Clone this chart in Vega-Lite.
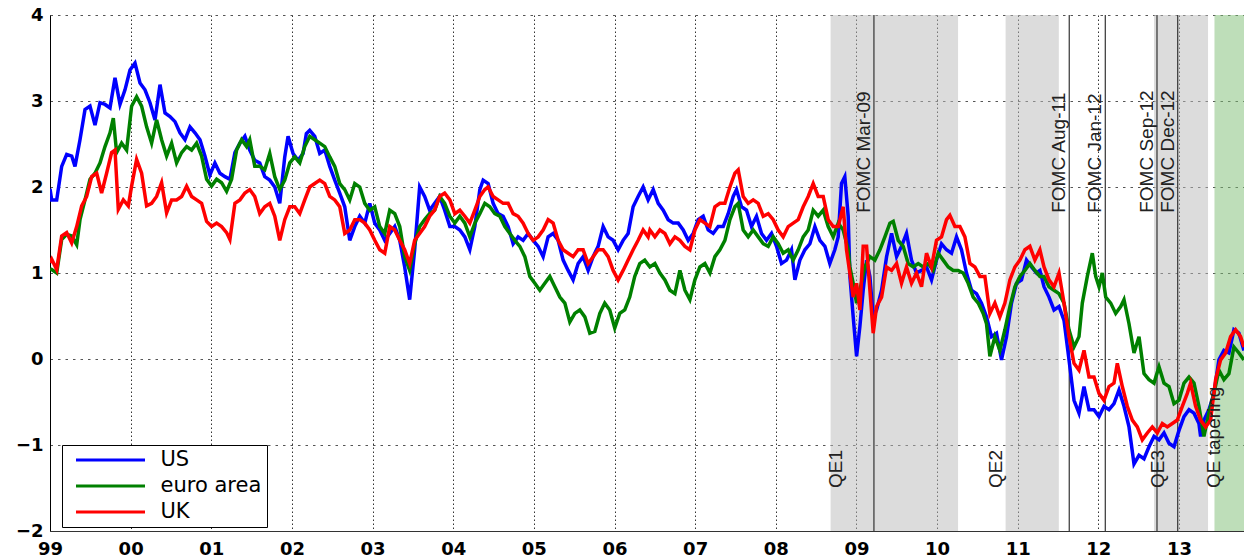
{
"$schema":"https://vega.github.io/schema/vega-lite/v6.json",
"width":1194,"height":516,
"autosize":{"type":"none"},
"padding":{"left":50,"top":15,"right":0,"bottom":28},
"background":"white",
"config":{"view":{"stroke":null},"font":"DejaVu Sans"},
"datasets":{
"shades":[{"start":2008.68,"end":2010.26,"kind":"QE"},{"start":2010.85,"end":2011.51,"kind":"QE"},{"start":2012.69,"end":2013.36,"kind":"QE"},{"start":2013.44,"end":2013.9,"kind":"tapering"}],
"events":[{"event":"FOMC Mar-09","date":2009.217},{"event":"FOMC Aug-11","date":2011.639},{"event":"FOMC Jan-12","date":2012.086},{"event":"FOMC Sep-12","date":2012.727},{"event":"FOMC Dec-12","date":2012.984}],
"qe":[{"label":"QE1","date":2008.82},{"label":"QE2","date":2010.81},{"label":"QE3","date":2012.81},{"label":"QE tapering","date":2013.51}],
"series":[
{"s":"US","t":1999.0,"v":1.98},{"s":"US","t":1999.021,"v":1.85},{"s":"US","t":1999.083,"v":1.85},{"s":"US","t":1999.145,"v":2.24},{"s":"US","t":1999.207,"v":2.38},{"s":"US","t":1999.269,"v":2.36},{"s":"US","t":1999.31,"v":2.24},{"s":"US","t":1999.372,"v":2.55},{"s":"US","t":1999.434,"v":2.9},{"s":"US","t":1999.496,"v":2.94},{"s":"US","t":1999.558,"v":2.72},{"s":"US","t":1999.62,"v":2.98},{"s":"US","t":1999.682,"v":2.96},{"s":"US","t":1999.744,"v":2.92},{"s":"US","t":1999.806,"v":3.27},{"s":"US","t":1999.868,"v":2.96},{"s":"US","t":1999.93,"v":3.13},{"s":"US","t":1999.992,"v":3.36},{"s":"US","t":2000.054,"v":3.44},{"s":"US","t":2000.116,"v":3.21},{"s":"US","t":2000.178,"v":3.13},{"s":"US","t":2000.24,"v":2.98},{"s":"US","t":2000.302,"v":2.78},{"s":"US","t":2000.364,"v":3.19},{"s":"US","t":2000.426,"v":2.86},{"s":"US","t":2000.488,"v":2.82},{"s":"US","t":2000.55,"v":2.76},{"s":"US","t":2000.612,"v":2.63},{"s":"US","t":2000.674,"v":2.55},{"s":"US","t":2000.736,"v":2.7},{"s":"US","t":2000.798,"v":2.63},{"s":"US","t":2000.86,"v":2.55},{"s":"US","t":2000.921,"v":2.36},{"s":"US","t":2000.983,"v":2.14},{"s":"US","t":2001.045,"v":2.28},{"s":"US","t":2001.107,"v":2.16},{"s":"US","t":2001.169,"v":2.12},{"s":"US","t":2001.231,"v":2.09},{"s":"US","t":2001.293,"v":2.4},{"s":"US","t":2001.355,"v":2.51},{"s":"US","t":2001.417,"v":2.59},
{"s":"US","t":2001.477,"v":2.43},{"s":"US","t":2001.539,"v":2.31},{"s":"US","t":2001.601,"v":2.28},{"s":"US","t":2001.663,"v":2.12},{"s":"US","t":2001.725,"v":2.08},{"s":"US","t":2001.787,"v":2.0},{"s":"US","t":2001.849,"v":1.81},{"s":"US","t":2001.911,"v":2.35},{"s":"US","t":2001.952,"v":2.59},{"s":"US","t":2002.014,"v":2.39},{"s":"US","t":2002.076,"v":2.31},{"s":"US","t":2002.138,"v":2.39},{"s":"US","t":2002.179,"v":2.62},{"s":"US","t":2002.221,"v":2.66},{"s":"US","t":2002.283,"v":2.59},{"s":"US","t":2002.345,"v":2.39},{"s":"US","t":2002.407,"v":2.43},{"s":"US","t":2002.469,"v":2.24},{"s":"US","t":2002.531,"v":2.08},{"s":"US","t":2002.593,"v":1.93},{"s":"US","t":2002.655,"v":1.77},{"s":"US","t":2002.717,"v":1.38},{"s":"US","t":2002.779,"v":1.54},{"s":"US","t":2002.841,"v":1.66},{"s":"US","t":2002.903,"v":1.58},{"s":"US","t":2002.965,"v":1.81},{"s":"US","t":2003.027,"v":1.58},{"s":"US","t":2003.089,"v":1.5},{"s":"US","t":2003.151,"v":1.38},{"s":"US","t":2003.213,"v":1.46},{"s":"US","t":2003.275,"v":1.54},{"s":"US","t":2003.337,"v":1.38},{"s":"US","t":2003.398,"v":1.07},{"s":"US","t":2003.46,"v":0.69},{"s":"US","t":2003.522,"v":1.27},{"s":"US","t":2003.584,"v":2.0},{"s":"US","t":2003.646,"v":1.89},{"s":"US","t":2003.708,"v":1.73},{"s":"US","t":2003.77,"v":1.81},{"s":"US","t":2003.832,"v":1.89},{"s":"US","t":2003.894,"v":1.73},
{"s":"US","t":2003.958,"v":1.54},{"s":"US","t":2004.02,"v":1.54},{"s":"US","t":2004.082,"v":1.5},{"s":"US","t":2004.144,"v":1.42},{"s":"US","t":2004.206,"v":1.27},{"s":"US","t":2004.268,"v":1.54},{"s":"US","t":2004.33,"v":1.97},{"s":"US","t":2004.371,"v":2.08},{"s":"US","t":2004.433,"v":2.04},{"s":"US","t":2004.495,"v":1.81},{"s":"US","t":2004.557,"v":1.69},{"s":"US","t":2004.619,"v":1.66},{"s":"US","t":2004.681,"v":1.54},{"s":"US","t":2004.743,"v":1.34},{"s":"US","t":2004.805,"v":1.42},{"s":"US","t":2004.867,"v":1.38},{"s":"US","t":2004.929,"v":1.46},{"s":"US","t":2004.991,"v":1.38},{"s":"US","t":2005.053,"v":1.31},{"s":"US","t":2005.115,"v":1.19},{"s":"US","t":2005.177,"v":1.42},{"s":"US","t":2005.239,"v":1.46},{"s":"US","t":2005.301,"v":1.38},{"s":"US","t":2005.363,"v":1.15},{"s":"US","t":2005.425,"v":1.03},{"s":"US","t":2005.487,"v":0.92},{"s":"US","t":2005.549,"v":1.11},{"s":"US","t":2005.611,"v":1.19},{"s":"US","t":2005.673,"v":1.03},{"s":"US","t":2005.735,"v":1.19},{"s":"US","t":2005.797,"v":1.31},{"s":"US","t":2005.859,"v":1.54},{"s":"US","t":2005.921,"v":1.42},{"s":"US","t":2005.983,"v":1.38},{"s":"US","t":2006.045,"v":1.27},{"s":"US","t":2006.107,"v":1.38},{"s":"US","t":2006.169,"v":1.46},{"s":"US","t":2006.231,"v":1.77},{"s":"US","t":2006.293,"v":1.89},{"s":"US","t":2006.355,"v":2.0},{"s":"US","t":2006.417,"v":1.85},
{"s":"US","t":2006.48,"v":1.97},{"s":"US","t":2006.542,"v":1.81},{"s":"US","t":2006.604,"v":1.73},{"s":"US","t":2006.666,"v":1.62},{"s":"US","t":2006.728,"v":1.58},{"s":"US","t":2006.79,"v":1.58},{"s":"US","t":2006.852,"v":1.5},{"s":"US","t":2006.914,"v":1.38},{"s":"US","t":2006.976,"v":1.46},{"s":"US","t":2007.038,"v":1.62},{"s":"US","t":2007.1,"v":1.66},{"s":"US","t":2007.162,"v":1.5},{"s":"US","t":2007.224,"v":1.46},{"s":"US","t":2007.286,"v":1.54},{"s":"US","t":2007.348,"v":1.54},{"s":"US","t":2007.41,"v":1.69},{"s":"US","t":2007.472,"v":1.89},{"s":"US","t":2007.513,"v":1.97},{"s":"US","t":2007.575,"v":1.77},{"s":"US","t":2007.637,"v":1.73},{"s":"US","t":2007.699,"v":1.54},{"s":"US","t":2007.761,"v":1.66},{"s":"US","t":2007.823,"v":1.46},{"s":"US","t":2007.885,"v":1.38},{"s":"US","t":2007.947,"v":1.46},{"s":"US","t":2008.009,"v":1.31},{"s":"US","t":2008.071,"v":1.11},{"s":"US","t":2008.133,"v":1.15},{"s":"US","t":2008.195,"v":1.27},{"s":"US","t":2008.237,"v":0.92},{"s":"US","t":2008.299,"v":1.15},{"s":"US","t":2008.361,"v":1.27},{"s":"US","t":2008.423,"v":1.34},{"s":"US","t":2008.485,"v":1.54},{"s":"US","t":2008.547,"v":1.38},{"s":"US","t":2008.609,"v":1.31},{"s":"US","t":2008.67,"v":1.11},{"s":"US","t":2008.732,"v":1.27},{"s":"US","t":2008.774,"v":1.42},{"s":"US","t":2008.815,"v":2.04},{"s":"US","t":2008.856,"v":2.12},{"s":"US","t":2008.898,"v":1.66},
{"s":"US","t":2008.919,"v":0.96},{"s":"US","t":2008.96,"v":0.49},{"s":"US","t":2009.002,"v":0.03},{"s":"US","t":2009.043,"v":0.38},{"s":"US","t":2009.084,"v":0.8},{"s":"US","t":2009.126,"v":1.15},{"s":"US","t":2009.167,"v":0.96},{"s":"US","t":2009.208,"v":0.49},{"s":"US","t":2009.25,"v":0.57},{"s":"US","t":2009.312,"v":0.8},{"s":"US","t":2009.374,"v":1.19},{"s":"US","t":2009.436,"v":1.46},{"s":"US","t":2009.498,"v":1.19},{"s":"US","t":2009.559,"v":1.31},{"s":"US","t":2009.621,"v":1.46},{"s":"US","t":2009.683,"v":1.15},{"s":"US","t":2009.745,"v":1.0},{"s":"US","t":2009.807,"v":1.03},{"s":"US","t":2009.869,"v":1.07},{"s":"US","t":2009.931,"v":0.92},{"s":"US","t":2009.993,"v":1.15},{"s":"US","t":2010.055,"v":1.34},{"s":"US","t":2010.117,"v":1.27},{"s":"US","t":2010.179,"v":1.23},{"s":"US","t":2010.241,"v":1.42},{"s":"US","t":2010.303,"v":1.27},{"s":"US","t":2010.365,"v":1.0},{"s":"US","t":2010.427,"v":0.8},{"s":"US","t":2010.489,"v":0.76},{"s":"US","t":2010.551,"v":0.65},{"s":"US","t":2010.613,"v":0.49},{"s":"US","t":2010.675,"v":0.26},{"s":"US","t":2010.737,"v":0.3},{"s":"US","t":2010.799,"v":-0.01},{"s":"US","t":2010.861,"v":0.26},{"s":"US","t":2010.923,"v":0.65},{"s":"US","t":2010.985,"v":0.88},{"s":"US","t":2011.047,"v":0.92},{"s":"US","t":2011.109,"v":1.15},{"s":"US","t":2011.171,"v":1.07},{"s":"US","t":2011.234,"v":1.0},{"s":"US","t":2011.275,"v":1.03},
{"s":"US","t":2011.326,"v":0.84},{"s":"US","t":2011.388,"v":0.72},{"s":"US","t":2011.45,"v":0.57},{"s":"US","t":2011.512,"v":0.61},{"s":"US","t":2011.574,"v":0.45},{"s":"US","t":2011.636,"v":-0.01},{"s":"US","t":2011.698,"v":-0.48},{"s":"US","t":2011.76,"v":-0.63},{"s":"US","t":2011.822,"v":-0.32},{"s":"US","t":2011.884,"v":-0.59},{"s":"US","t":2011.946,"v":-0.59},{"s":"US","t":2012.008,"v":-0.67},{"s":"US","t":2012.07,"v":-0.55},{"s":"US","t":2012.132,"v":-0.59},{"s":"US","t":2012.194,"v":-0.52},{"s":"US","t":2012.256,"v":-0.36},{"s":"US","t":2012.318,"v":-0.55},{"s":"US","t":2012.38,"v":-0.79},{"s":"US","t":2012.442,"v":-1.22},{"s":"US","t":2012.504,"v":-1.12},{"s":"US","t":2012.566,"v":-1.16},{"s":"US","t":2012.628,"v":-1.02},{"s":"US","t":2012.69,"v":-0.9},{"s":"US","t":2012.752,"v":-0.94},{"s":"US","t":2012.814,"v":-0.86},{"s":"US","t":2012.876,"v":-0.98},{"s":"US","t":2012.938,"v":-1.02},{"s":"US","t":2013.0,"v":-0.83},{"s":"US","t":2013.062,"v":-0.67},{"s":"US","t":2013.124,"v":-0.59},{"s":"US","t":2013.186,"v":-0.63},{"s":"US","t":2013.247,"v":-0.75},{"s":"US","t":2013.268,"v":-0.9},{"s":"US","t":2013.309,"v":-0.71},{"s":"US","t":2013.371,"v":-0.59},{"s":"US","t":2013.433,"v":-0.4},{"s":"US","t":2013.495,"v":-0.01},{"s":"US","t":2013.557,"v":0.1},{"s":"US","t":2013.619,"v":0.07},{"s":"US","t":2013.681,"v":0.34},{"s":"US","t":2013.743,"v":0.3},{"s":"US","t":2013.805,"v":0.1},

{"s":"euro area","t":1999.0,"v":1.05},{"s":"euro area","t":1999.021,"v":1.04},{"s":"euro area","t":1999.083,"v":1.0},{"s":"euro area","t":1999.145,"v":1.39},{"s":"euro area","t":1999.207,"v":1.45},{"s":"euro area","t":1999.269,"v":1.43},{"s":"euro area","t":1999.331,"v":1.33},{"s":"euro area","t":1999.372,"v":1.62},{"s":"euro area","t":1999.434,"v":1.85},{"s":"euro area","t":1999.496,"v":2.09},{"s":"euro area","t":1999.558,"v":2.16},{"s":"euro area","t":1999.62,"v":2.28},{"s":"euro area","t":1999.682,"v":2.47},{"s":"euro area","t":1999.744,"v":2.63},{"s":"euro area","t":1999.785,"v":2.8},{"s":"euro area","t":1999.826,"v":2.4},{"s":"euro area","t":1999.888,"v":2.51},{"s":"euro area","t":1999.95,"v":2.43},{"s":"euro area","t":2000.012,"v":2.94},{"s":"euro area","t":2000.074,"v":3.05},{"s":"euro area","t":2000.136,"v":2.94},{"s":"euro area","t":2000.198,"v":2.7},{"s":"euro area","t":2000.26,"v":2.51},{"s":"euro area","t":2000.322,"v":2.78},{"s":"euro area","t":2000.384,"v":2.55},{"s":"euro area","t":2000.446,"v":2.36},{"s":"euro area","t":2000.508,"v":2.51},{"s":"euro area","t":2000.57,"v":2.28},{"s":"euro area","t":2000.632,"v":2.4},{"s":"euro area","t":2000.694,"v":2.47},{"s":"euro area","t":2000.756,"v":2.43},{"s":"euro area","t":2000.818,"v":2.51},{"s":"euro area","t":2000.88,"v":2.36},{"s":"euro area","t":2000.942,"v":2.09},{"s":"euro area","t":2001.004,"v":2.01},{"s":"euro area","t":2001.066,"v":2.09},{"s":"euro area","t":2001.128,"v":2.05},{"s":"euro area","t":2001.19,"v":1.95},{"s":"euro area","t":2001.252,"v":2.09},{"s":"euro area","t":2001.314,"v":2.43},{"s":"euro area","t":2001.376,"v":2.55},{"s":"euro area","t":2001.438,"v":2.47},
{"s":"euro area","t":2001.477,"v":2.55},{"s":"euro area","t":2001.539,"v":2.24},{"s":"euro area","t":2001.601,"v":2.24},{"s":"euro area","t":2001.663,"v":2.2},{"s":"euro area","t":2001.725,"v":2.39},{"s":"euro area","t":2001.787,"v":2.12},{"s":"euro area","t":2001.849,"v":1.97},{"s":"euro area","t":2001.911,"v":2.08},{"s":"euro area","t":2001.973,"v":2.28},{"s":"euro area","t":2002.035,"v":2.35},{"s":"euro area","t":2002.097,"v":2.28},{"s":"euro area","t":2002.159,"v":2.47},{"s":"euro area","t":2002.221,"v":2.59},{"s":"euro area","t":2002.283,"v":2.55},{"s":"euro area","t":2002.345,"v":2.51},{"s":"euro area","t":2002.407,"v":2.47},{"s":"euro area","t":2002.469,"v":2.35},{"s":"euro area","t":2002.531,"v":2.24},{"s":"euro area","t":2002.593,"v":2.04},{"s":"euro area","t":2002.655,"v":1.97},{"s":"euro area","t":2002.717,"v":1.85},{"s":"euro area","t":2002.779,"v":2.04},{"s":"euro area","t":2002.841,"v":2.0},{"s":"euro area","t":2002.903,"v":1.81},{"s":"euro area","t":2002.965,"v":1.73},{"s":"euro area","t":2003.027,"v":1.77},{"s":"euro area","t":2003.089,"v":1.54},{"s":"euro area","t":2003.151,"v":1.46},{"s":"euro area","t":2003.213,"v":1.73},{"s":"euro area","t":2003.275,"v":1.69},{"s":"euro area","t":2003.337,"v":1.54},{"s":"euro area","t":2003.398,"v":1.19},{"s":"euro area","t":2003.46,"v":1.03},{"s":"euro area","t":2003.522,"v":1.34},{"s":"euro area","t":2003.584,"v":1.54},{"s":"euro area","t":2003.646,"v":1.62},{"s":"euro area","t":2003.708,"v":1.69},{"s":"euro area","t":2003.77,"v":1.73},{"s":"euro area","t":2003.832,"v":1.89},{"s":"euro area","t":2003.894,"v":1.81},
{"s":"euro area","t":2003.958,"v":1.66},{"s":"euro area","t":2004.02,"v":1.58},{"s":"euro area","t":2004.082,"v":1.66},{"s":"euro area","t":2004.144,"v":1.58},{"s":"euro area","t":2004.206,"v":1.42},{"s":"euro area","t":2004.268,"v":1.58},{"s":"euro area","t":2004.33,"v":1.69},{"s":"euro area","t":2004.392,"v":1.81},{"s":"euro area","t":2004.454,"v":1.77},{"s":"euro area","t":2004.516,"v":1.69},{"s":"euro area","t":2004.578,"v":1.66},{"s":"euro area","t":2004.64,"v":1.54},{"s":"euro area","t":2004.702,"v":1.46},{"s":"euro area","t":2004.764,"v":1.38},{"s":"euro area","t":2004.826,"v":1.31},{"s":"euro area","t":2004.888,"v":1.19},{"s":"euro area","t":2004.95,"v":0.96},{"s":"euro area","t":2005.012,"v":0.88},{"s":"euro area","t":2005.074,"v":0.8},{"s":"euro area","t":2005.136,"v":0.88},{"s":"euro area","t":2005.198,"v":0.96},{"s":"euro area","t":2005.26,"v":0.84},{"s":"euro area","t":2005.322,"v":0.72},{"s":"euro area","t":2005.384,"v":0.65},{"s":"euro area","t":2005.446,"v":0.43},{"s":"euro area","t":2005.508,"v":0.53},{"s":"euro area","t":2005.57,"v":0.57},{"s":"euro area","t":2005.632,"v":0.49},{"s":"euro area","t":2005.694,"v":0.3},{"s":"euro area","t":2005.756,"v":0.32},{"s":"euro area","t":2005.818,"v":0.53},{"s":"euro area","t":2005.879,"v":0.65},{"s":"euro area","t":2005.941,"v":0.57},{"s":"euro area","t":2006.003,"v":0.36},{"s":"euro area","t":2006.065,"v":0.53},{"s":"euro area","t":2006.127,"v":0.57},{"s":"euro area","t":2006.189,"v":0.72},{"s":"euro area","t":2006.251,"v":0.96},{"s":"euro area","t":2006.313,"v":1.11},{"s":"euro area","t":2006.375,"v":1.15},
{"s":"euro area","t":2006.439,"v":1.07},{"s":"euro area","t":2006.501,"v":1.11},{"s":"euro area","t":2006.563,"v":1.0},{"s":"euro area","t":2006.625,"v":0.92},{"s":"euro area","t":2006.687,"v":0.8},{"s":"euro area","t":2006.749,"v":0.76},{"s":"euro area","t":2006.811,"v":1.03},{"s":"euro area","t":2006.873,"v":0.8},{"s":"euro area","t":2006.935,"v":0.69},{"s":"euro area","t":2006.997,"v":0.92},{"s":"euro area","t":2007.059,"v":1.07},{"s":"euro area","t":2007.121,"v":1.11},{"s":"euro area","t":2007.183,"v":1.0},{"s":"euro area","t":2007.245,"v":1.19},{"s":"euro area","t":2007.307,"v":1.27},{"s":"euro area","t":2007.369,"v":1.38},{"s":"euro area","t":2007.431,"v":1.62},{"s":"euro area","t":2007.493,"v":1.77},{"s":"euro area","t":2007.534,"v":1.81},{"s":"euro area","t":2007.596,"v":1.5},{"s":"euro area","t":2007.658,"v":1.42},{"s":"euro area","t":2007.72,"v":1.5},{"s":"euro area","t":2007.782,"v":1.42},{"s":"euro area","t":2007.844,"v":1.34},{"s":"euro area","t":2007.906,"v":1.31},{"s":"euro area","t":2007.968,"v":1.42},{"s":"euro area","t":2008.03,"v":1.34},{"s":"euro area","t":2008.092,"v":1.23},{"s":"euro area","t":2008.154,"v":1.27},{"s":"euro area","t":2008.216,"v":1.15},{"s":"euro area","t":2008.278,"v":1.27},{"s":"euro area","t":2008.34,"v":1.42},{"s":"euro area","t":2008.402,"v":1.5},{"s":"euro area","t":2008.464,"v":1.73},{"s":"euro area","t":2008.526,"v":1.66},{"s":"euro area","t":2008.588,"v":1.73},{"s":"euro area","t":2008.65,"v":1.54},{"s":"euro area","t":2008.712,"v":1.42},{"s":"euro area","t":2008.774,"v":1.58},{"s":"euro area","t":2008.836,"v":1.5},{"s":"euro area","t":2008.898,"v":1.27},
{"s":"euro area","t":2008.919,"v":1.07},{"s":"euro area","t":2008.96,"v":0.88},{"s":"euro area","t":2009.002,"v":0.65},{"s":"euro area","t":2009.043,"v":0.8},{"s":"euro area","t":2009.105,"v":1.07},{"s":"euro area","t":2009.167,"v":1.19},{"s":"euro area","t":2009.229,"v":1.15},{"s":"euro area","t":2009.291,"v":1.27},{"s":"euro area","t":2009.353,"v":1.42},{"s":"euro area","t":2009.415,"v":1.58},{"s":"euro area","t":2009.456,"v":1.6},{"s":"euro area","t":2009.518,"v":1.38},{"s":"euro area","t":2009.58,"v":1.31},{"s":"euro area","t":2009.642,"v":1.11},{"s":"euro area","t":2009.704,"v":1.07},{"s":"euro area","t":2009.766,"v":1.11},{"s":"euro area","t":2009.828,"v":1.07},{"s":"euro area","t":2009.89,"v":1.11},{"s":"euro area","t":2009.952,"v":1.03},{"s":"euro area","t":2010.014,"v":1.23},{"s":"euro area","t":2010.076,"v":1.15},{"s":"euro area","t":2010.138,"v":1.07},{"s":"euro area","t":2010.2,"v":1.03},{"s":"euro area","t":2010.262,"v":1.03},{"s":"euro area","t":2010.324,"v":1.0},{"s":"euro area","t":2010.386,"v":0.88},{"s":"euro area","t":2010.448,"v":0.72},{"s":"euro area","t":2010.51,"v":0.65},{"s":"euro area","t":2010.572,"v":0.53},{"s":"euro area","t":2010.613,"v":0.41},{"s":"euro area","t":2010.655,"v":0.03},{"s":"euro area","t":2010.717,"v":0.26},{"s":"euro area","t":2010.779,"v":0.1},{"s":"euro area","t":2010.841,"v":0.34},{"s":"euro area","t":2010.903,"v":0.61},{"s":"euro area","t":2010.965,"v":0.84},{"s":"euro area","t":2011.027,"v":0.96},{"s":"euro area","t":2011.089,"v":1.03},{"s":"euro area","t":2011.151,"v":1.11},{"s":"euro area","t":2011.213,"v":1.03},{"s":"euro area","t":2011.275,"v":0.96},
{"s":"euro area","t":2011.326,"v":0.96},{"s":"euro area","t":2011.388,"v":0.84},{"s":"euro area","t":2011.45,"v":0.8},{"s":"euro area","t":2011.512,"v":0.76},{"s":"euro area","t":2011.574,"v":0.65},{"s":"euro area","t":2011.636,"v":0.34},{"s":"euro area","t":2011.698,"v":0.14},{"s":"euro area","t":2011.76,"v":0.26},{"s":"euro area","t":2011.801,"v":0.65},{"s":"euro area","t":2011.863,"v":0.96},{"s":"euro area","t":2011.925,"v":1.23},{"s":"euro area","t":2011.967,"v":0.96},{"s":"euro area","t":2012.008,"v":0.84},{"s":"euro area","t":2012.049,"v":1.0},{"s":"euro area","t":2012.091,"v":0.72},{"s":"euro area","t":2012.153,"v":0.65},{"s":"euro area","t":2012.215,"v":0.53},{"s":"euro area","t":2012.277,"v":0.61},{"s":"euro area","t":2012.318,"v":0.69},{"s":"euro area","t":2012.38,"v":0.41},{"s":"euro area","t":2012.442,"v":0.07},{"s":"euro area","t":2012.504,"v":0.26},{"s":"euro area","t":2012.566,"v":-0.17},{"s":"euro area","t":2012.628,"v":-0.24},{"s":"euro area","t":2012.69,"v":-0.28},{"s":"euro area","t":2012.752,"v":-0.09},{"s":"euro area","t":2012.814,"v":-0.28},{"s":"euro area","t":2012.876,"v":-0.32},{"s":"euro area","t":2012.938,"v":-0.52},{"s":"euro area","t":2013.0,"v":-0.48},{"s":"euro area","t":2013.062,"v":-0.28},{"s":"euro area","t":2013.124,"v":-0.21},{"s":"euro area","t":2013.186,"v":-0.28},{"s":"euro area","t":2013.247,"v":-0.55},{"s":"euro area","t":2013.309,"v":-0.9},{"s":"euro area","t":2013.371,"v":-0.63},{"s":"euro area","t":2013.433,"v":-0.4},{"s":"euro area","t":2013.495,"v":-0.13},{"s":"euro area","t":2013.557,"v":-0.24},{"s":"euro area","t":2013.619,"v":-0.17},{"s":"euro area","t":2013.681,"v":0.14},{"s":"euro area","t":2013.743,"v":0.07},{"s":"euro area","t":2013.805,"v":-0.01},

{"s":"UK","t":1999.0,"v":1.12},{"s":"UK","t":1999.021,"v":1.16},{"s":"UK","t":1999.083,"v":1.04},{"s":"UK","t":1999.145,"v":1.43},{"s":"UK","t":1999.207,"v":1.47},{"s":"UK","t":1999.269,"v":1.35},{"s":"UK","t":1999.331,"v":1.54},{"s":"UK","t":1999.393,"v":1.78},{"s":"UK","t":1999.455,"v":1.89},{"s":"UK","t":1999.517,"v":2.12},{"s":"UK","t":1999.579,"v":2.16},{"s":"UK","t":1999.64,"v":1.93},{"s":"UK","t":1999.702,"v":2.16},{"s":"UK","t":1999.764,"v":2.4},{"s":"UK","t":1999.806,"v":2.43},{"s":"UK","t":1999.847,"v":1.74},{"s":"UK","t":1999.909,"v":1.85},{"s":"UK","t":1999.971,"v":1.78},{"s":"UK","t":2000.012,"v":2.01},{"s":"UK","t":2000.074,"v":2.32},{"s":"UK","t":2000.136,"v":2.16},{"s":"UK","t":2000.198,"v":1.78},{"s":"UK","t":2000.26,"v":1.81},{"s":"UK","t":2000.322,"v":1.89},{"s":"UK","t":2000.384,"v":2.05},{"s":"UK","t":2000.446,"v":1.7},{"s":"UK","t":2000.508,"v":1.85},{"s":"UK","t":2000.57,"v":1.85},{"s":"UK","t":2000.632,"v":1.89},{"s":"UK","t":2000.694,"v":2.01},{"s":"UK","t":2000.756,"v":1.89},{"s":"UK","t":2000.818,"v":1.85},{"s":"UK","t":2000.88,"v":1.81},{"s":"UK","t":2000.942,"v":1.6},{"s":"UK","t":2001.004,"v":1.54},{"s":"UK","t":2001.066,"v":1.58},{"s":"UK","t":2001.128,"v":1.54},{"s":"UK","t":2001.19,"v":1.47},{"s":"UK","t":2001.231,"v":1.39},{"s":"UK","t":2001.293,"v":1.81},{"s":"UK","t":2001.355,"v":1.85},{"s":"UK","t":2001.417,"v":1.93},
{"s":"UK","t":2001.477,"v":1.97},{"s":"UK","t":2001.539,"v":1.89},{"s":"UK","t":2001.601,"v":1.69},{"s":"UK","t":2001.663,"v":1.77},{"s":"UK","t":2001.725,"v":1.81},{"s":"UK","t":2001.787,"v":1.66},{"s":"UK","t":2001.849,"v":1.38},{"s":"UK","t":2001.911,"v":1.62},{"s":"UK","t":2001.973,"v":1.77},{"s":"UK","t":2002.035,"v":1.77},{"s":"UK","t":2002.097,"v":1.69},{"s":"UK","t":2002.159,"v":1.85},{"s":"UK","t":2002.221,"v":2.0},{"s":"UK","t":2002.283,"v":2.04},{"s":"UK","t":2002.345,"v":2.08},{"s":"UK","t":2002.407,"v":2.04},{"s":"UK","t":2002.469,"v":1.89},{"s":"UK","t":2002.531,"v":1.85},{"s":"UK","t":2002.593,"v":1.77},{"s":"UK","t":2002.655,"v":1.46},{"s":"UK","t":2002.717,"v":1.5},{"s":"UK","t":2002.779,"v":1.62},{"s":"UK","t":2002.841,"v":1.62},{"s":"UK","t":2002.903,"v":1.58},{"s":"UK","t":2002.965,"v":1.5},{"s":"UK","t":2003.027,"v":1.38},{"s":"UK","t":2003.089,"v":1.27},{"s":"UK","t":2003.151,"v":1.23},{"s":"UK","t":2003.213,"v":1.54},{"s":"UK","t":2003.275,"v":1.5},{"s":"UK","t":2003.337,"v":1.38},{"s":"UK","t":2003.398,"v":1.27},{"s":"UK","t":2003.46,"v":1.11},{"s":"UK","t":2003.522,"v":1.38},{"s":"UK","t":2003.584,"v":1.46},{"s":"UK","t":2003.646,"v":1.54},{"s":"UK","t":2003.708,"v":1.66},{"s":"UK","t":2003.77,"v":1.73},{"s":"UK","t":2003.832,"v":1.89},{"s":"UK","t":2003.894,"v":1.93},
{"s":"UK","t":2003.958,"v":1.85},{"s":"UK","t":2004.02,"v":1.69},{"s":"UK","t":2004.082,"v":1.73},{"s":"UK","t":2004.144,"v":1.66},{"s":"UK","t":2004.206,"v":1.58},{"s":"UK","t":2004.268,"v":1.73},{"s":"UK","t":2004.33,"v":1.89},{"s":"UK","t":2004.392,"v":1.97},{"s":"UK","t":2004.433,"v":2.0},{"s":"UK","t":2004.495,"v":1.89},{"s":"UK","t":2004.557,"v":1.85},{"s":"UK","t":2004.619,"v":1.81},{"s":"UK","t":2004.681,"v":1.81},{"s":"UK","t":2004.743,"v":1.69},{"s":"UK","t":2004.805,"v":1.66},{"s":"UK","t":2004.867,"v":1.58},{"s":"UK","t":2004.929,"v":1.46},{"s":"UK","t":2004.991,"v":1.38},{"s":"UK","t":2005.053,"v":1.42},{"s":"UK","t":2005.115,"v":1.5},{"s":"UK","t":2005.177,"v":1.62},{"s":"UK","t":2005.239,"v":1.58},{"s":"UK","t":2005.301,"v":1.38},{"s":"UK","t":2005.363,"v":1.27},{"s":"UK","t":2005.425,"v":1.23},{"s":"UK","t":2005.487,"v":1.19},{"s":"UK","t":2005.549,"v":1.27},{"s":"UK","t":2005.611,"v":1.27},{"s":"UK","t":2005.673,"v":1.11},{"s":"UK","t":2005.735,"v":1.19},{"s":"UK","t":2005.797,"v":1.27},{"s":"UK","t":2005.859,"v":1.27},{"s":"UK","t":2005.921,"v":1.19},{"s":"UK","t":2005.983,"v":1.03},{"s":"UK","t":2006.045,"v":0.92},{"s":"UK","t":2006.107,"v":1.03},{"s":"UK","t":2006.169,"v":1.15},{"s":"UK","t":2006.231,"v":1.27},{"s":"UK","t":2006.293,"v":1.38},{"s":"UK","t":2006.355,"v":1.5},{"s":"UK","t":2006.417,"v":1.42},
{"s":"UK","t":2006.439,"v":1.5},{"s":"UK","t":2006.501,"v":1.42},{"s":"UK","t":2006.563,"v":1.5},{"s":"UK","t":2006.625,"v":1.46},{"s":"UK","t":2006.687,"v":1.34},{"s":"UK","t":2006.749,"v":1.42},{"s":"UK","t":2006.811,"v":1.38},{"s":"UK","t":2006.873,"v":1.31},{"s":"UK","t":2006.935,"v":1.27},{"s":"UK","t":2006.997,"v":1.5},{"s":"UK","t":2007.059,"v":1.62},{"s":"UK","t":2007.121,"v":1.58},{"s":"UK","t":2007.183,"v":1.54},{"s":"UK","t":2007.245,"v":1.77},{"s":"UK","t":2007.307,"v":1.81},{"s":"UK","t":2007.369,"v":1.81},{"s":"UK","t":2007.431,"v":2.0},{"s":"UK","t":2007.493,"v":2.16},{"s":"UK","t":2007.534,"v":2.2},{"s":"UK","t":2007.596,"v":1.89},{"s":"UK","t":2007.658,"v":1.81},{"s":"UK","t":2007.72,"v":1.85},{"s":"UK","t":2007.782,"v":1.81},{"s":"UK","t":2007.844,"v":1.66},{"s":"UK","t":2007.906,"v":1.69},{"s":"UK","t":2007.968,"v":1.62},{"s":"UK","t":2008.03,"v":1.5},{"s":"UK","t":2008.092,"v":1.42},{"s":"UK","t":2008.154,"v":1.54},{"s":"UK","t":2008.216,"v":1.58},{"s":"UK","t":2008.278,"v":1.62},{"s":"UK","t":2008.34,"v":1.77},{"s":"UK","t":2008.402,"v":1.89},{"s":"UK","t":2008.464,"v":2.04},{"s":"UK","t":2008.526,"v":1.89},{"s":"UK","t":2008.588,"v":1.89},{"s":"UK","t":2008.65,"v":1.62},{"s":"UK","t":2008.712,"v":1.54},{"s":"UK","t":2008.774,"v":1.54},{"s":"UK","t":2008.836,"v":1.77},{"s":"UK","t":2008.877,"v":1.27},{"s":"UK","t":2008.918,"v":1.0},
{"s":"UK","t":2008.96,"v":0.72},{"s":"UK","t":2009.002,"v":0.88},{"s":"UK","t":2009.043,"v":0.57},{"s":"UK","t":2009.084,"v":1.31},{"s":"UK","t":2009.126,"v":1.31},{"s":"UK","t":2009.167,"v":0.8},{"s":"UK","t":2009.208,"v":0.3},{"s":"UK","t":2009.25,"v":0.61},{"s":"UK","t":2009.312,"v":0.72},{"s":"UK","t":2009.374,"v":1.07},{"s":"UK","t":2009.436,"v":1.03},{"s":"UK","t":2009.498,"v":1.11},{"s":"UK","t":2009.559,"v":0.88},{"s":"UK","t":2009.621,"v":1.07},{"s":"UK","t":2009.683,"v":0.88},{"s":"UK","t":2009.745,"v":1.0},{"s":"UK","t":2009.807,"v":0.84},{"s":"UK","t":2009.869,"v":1.23},{"s":"UK","t":2009.931,"v":1.07},{"s":"UK","t":2009.993,"v":1.38},{"s":"UK","t":2010.055,"v":1.42},{"s":"UK","t":2010.117,"v":1.62},{"s":"UK","t":2010.159,"v":1.67},{"s":"UK","t":2010.221,"v":1.54},{"s":"UK","t":2010.283,"v":1.54},{"s":"UK","t":2010.345,"v":1.42},{"s":"UK","t":2010.407,"v":1.11},{"s":"UK","t":2010.469,"v":1.07},{"s":"UK","t":2010.531,"v":0.96},{"s":"UK","t":2010.593,"v":0.96},{"s":"UK","t":2010.655,"v":0.53},{"s":"UK","t":2010.717,"v":0.65},{"s":"UK","t":2010.779,"v":0.49},{"s":"UK","t":2010.841,"v":0.65},{"s":"UK","t":2010.903,"v":0.92},{"s":"UK","t":2010.965,"v":1.07},{"s":"UK","t":2011.027,"v":1.15},{"s":"UK","t":2011.089,"v":1.27},{"s":"UK","t":2011.151,"v":1.31},{"s":"UK","t":2011.213,"v":1.15},{"s":"UK","t":2011.275,"v":1.27},
{"s":"UK","t":2011.326,"v":1.07},{"s":"UK","t":2011.388,"v":0.92},{"s":"UK","t":2011.45,"v":0.84},{"s":"UK","t":2011.512,"v":1.0},{"s":"UK","t":2011.574,"v":0.65},{"s":"UK","t":2011.636,"v":0.26},{"s":"UK","t":2011.698,"v":-0.05},{"s":"UK","t":2011.76,"v":-0.13},{"s":"UK","t":2011.822,"v":0.1},{"s":"UK","t":2011.884,"v":-0.21},{"s":"UK","t":2011.946,"v":-0.21},{"s":"UK","t":2012.008,"v":-0.4},{"s":"UK","t":2012.07,"v":-0.48},{"s":"UK","t":2012.132,"v":-0.32},{"s":"UK","t":2012.194,"v":-0.28},{"s":"UK","t":2012.235,"v":-0.05},{"s":"UK","t":2012.297,"v":-0.32},{"s":"UK","t":2012.359,"v":-0.55},{"s":"UK","t":2012.421,"v":-0.71},{"s":"UK","t":2012.483,"v":-0.79},{"s":"UK","t":2012.545,"v":-0.94},{"s":"UK","t":2012.607,"v":-0.86},{"s":"UK","t":2012.669,"v":-0.79},{"s":"UK","t":2012.731,"v":-0.86},{"s":"UK","t":2012.793,"v":-0.75},{"s":"UK","t":2012.855,"v":-0.79},{"s":"UK","t":2012.917,"v":-0.75},{"s":"UK","t":2012.979,"v":-0.71},{"s":"UK","t":2013.041,"v":-0.55},{"s":"UK","t":2013.103,"v":-0.4},{"s":"UK","t":2013.144,"v":-0.28},{"s":"UK","t":2013.206,"v":-0.55},{"s":"UK","t":2013.268,"v":-0.71},{"s":"UK","t":2013.33,"v":-0.79},{"s":"UK","t":2013.392,"v":-0.71},{"s":"UK","t":2013.454,"v":-0.24},{"s":"UK","t":2013.516,"v":-0.01},{"s":"UK","t":2013.578,"v":0.07},{"s":"UK","t":2013.64,"v":0.26},{"s":"UK","t":2013.702,"v":0.34},{"s":"UK","t":2013.764,"v":0.26},{"s":"UK","t":2013.805,"v":0.14}
]},
"layer":[
{"data":{"name":"shades"},"mark":{"type":"rect","opacity":0.5,"clip":true},
 "encoding":{"x":{"field":"start","type":"quantitative","title":null},"x2":{"field":"end"},
  "fill":{"field":"kind","type":"nominal","scale":{"domain":["QE","tapering"],"range":["#b9b9b9","#7dbd73"]},"legend":null}}},
{"data":{"name":"events"},"mark":{"type":"rule","color":"#333333","strokeWidth":1.2},
 "encoding":{"x":{"field":"date","type":"quantitative","title":null}}},
{"data":{"name":"series"},"mark":{"type":"line","strokeWidth":3.5,"clip":true},
 "encoding":{
  "x":{"field":"t","type":"quantitative","title":null,"scale":{"domain":[1999,2013.806],"nice":false,"zero":false},
   "axis":{"values":[1999,2000,2001,2002,2003,2004,2005,2006,2007,2008,2009,2010,2011,2012,2013],"labelExpr":"slice('0' + (datum.value % 100), -2)","grid":true,"gridDash":[1.5,2.5],"gridColor":"#333333","gridOpacity":1,"domainColor":"#333333","ticks":false,"labelFont":"DejaVu Sans","labelFontWeight":"bold","labelFontSize":18,"labelColor":"black","labelPadding":9,"labelFlush":false,"labelOverlap":false}},
  "y":{"field":"v","type":"quantitative","title":null,"scale":{"domain":[-2,4],"nice":false,"zero":false},
   "axis":{"values":[-2,-1,0,1,2,3,4],"format":"d","grid":true,"gridDash":[2.5,5],"gridColor":"#555555","gridOpacity":1,"domainColor":"black","ticks":false,"labelFont":"DejaVu Sans","labelFontWeight":"bold","labelFontSize":18,"labelColor":"black","labelPadding":7,"labelFlush":false,"labelOverlap":false}},
  "color":{"field":"s","type":"nominal","sort":null,"scale":{"domain":["US","euro area","UK"],"range":["#0000ff","#008000","#ff0000"]},
   "legend":{"title":null,"orient":"none","legendX":12,"legendY":430,"symbolType":"stroke","symbolSize":4761,"symbolStrokeWidth":3,"clipHeight":20,"rowPadding":5,"padding":5,"symbolOffset":7.5,"labelOffset":14,"labelFont":"DejaVu Sans","labelFontSize":21,"labelColor":"black","strokeColor":"black","fillColor":"white","cornerRadius":0,"labelLimit":300}}}},
{"data":{"name":"events"},"mark":{"type":"text","angle":270,"align":"left","baseline":"alphabetic","dy":-4,"font":"Liberation Sans","fontSize":19,"color":"#222222"},
 "encoding":{"x":{"field":"date","type":"quantitative","title":null},"y":{"datum":1.7},"text":{"field":"event"}}},
{"data":{"name":"qe"},"mark":{"type":"text","angle":270,"align":"left","baseline":"alphabetic","font":"Liberation Sans","fontSize":19,"color":"#222222"},
 "encoding":{"x":{"field":"date","type":"quantitative","title":null},"y":{"datum":-1.5},"text":{"field":"label"}}}
]
}
